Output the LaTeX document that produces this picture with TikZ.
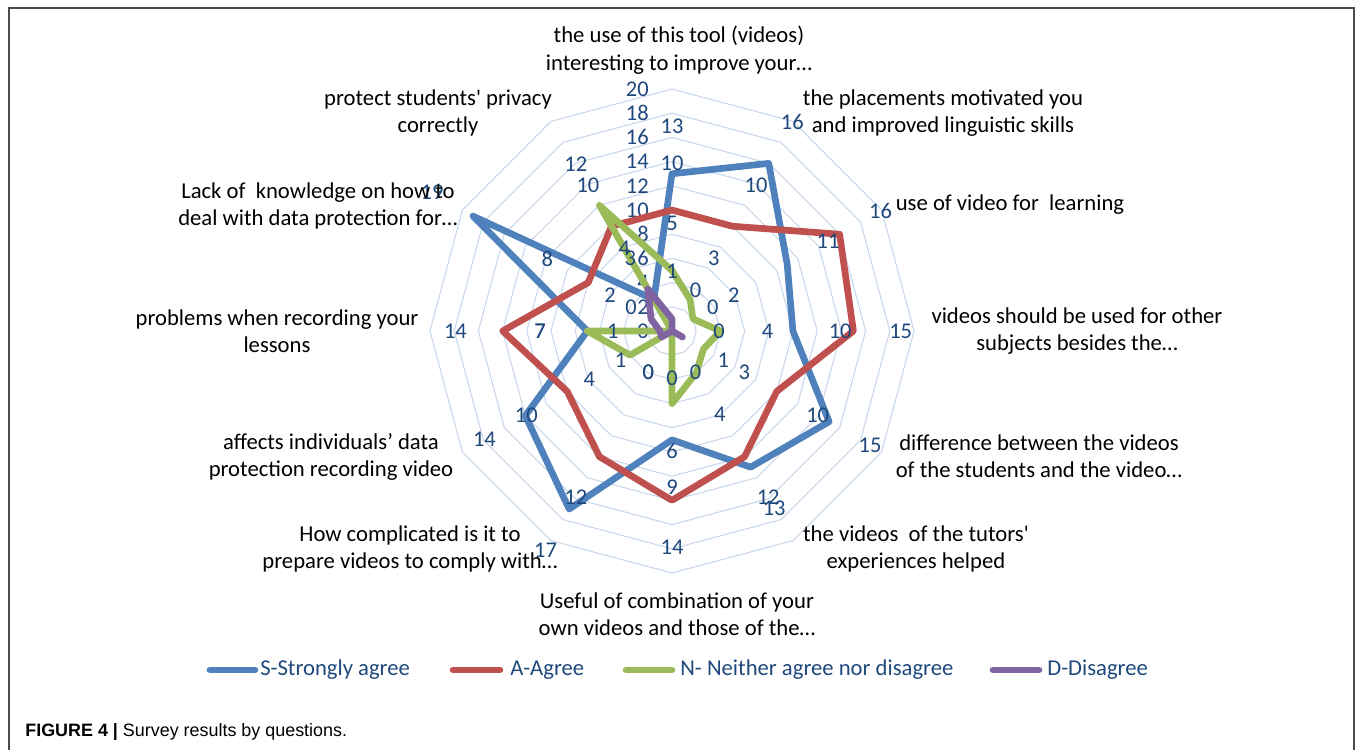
\documentclass[tikz,border=0pt]{standalone}
\usepackage{fontspec}
\setmainfont{Carlito}
\newfontfamily\capfont{Liberation Sans}
\definecolor{sblue}{RGB}{79,129,189}
\definecolor{ared}{RGB}{192,80,77}
\definecolor{ngreen}{RGB}{155,187,89}
\definecolor{dpurple}{RGB}{128,100,162}
\definecolor{gridblue}{RGB}{200,214,236}
\definecolor{lblue}{RGB}{31,73,125}
\tikzset{
  serie/.style={line width=3.8pt, line join=round},
  val/.style={text=lblue, font=\fontsize{12.8}{14}\selectfont, inner sep=0pt},
  quest/.style={align=center, font=\fontsize{12.9}{15.6}\selectfont, inner sep=0pt},
  leg/.style={line width=3.8pt, line cap=round},
  legtext/.style={anchor=west, text=lblue, font=\fontsize{12.9}{15.6}\selectfont, inner sep=0pt},
}
% answers per question, clockwise from the top
\def\dataS{13,16,11,10,15,13,9,17,14,7,19,3}
\def\dataA{10,10,16,15,10,12,14,12,10,14,8,10}
\def\dataN{5,3,2,4,3,4,6,0,4,7,0,12}
\def\dataD{1,0,0,0,1,0,0,0,1,1,2,4}

\begin{document}
\begin{tikzpicture}[x=0.02cm, y=0.02cm]
\useasboundingbox (-672,-419) rectangle (685,331);
\draw[line width=0.8pt, gray!60!black] (-663,-419) -- (-663,323) -- (682,323) -- (682,-419);

\begin{scope}[scale=12.1]
% grid
\foreach \r in {2,4,...,20}
  \draw[gridblue, line width=0.6pt] (90:\r) \foreach \a in {60,30,...,-240} { -- (\a:\r) } -- cycle;
\foreach \v in {0,2,...,20}
  \node[val, anchor=east] (t\v) at (-1.9,\v) {\v};
% points
\foreach \v [count=\i] in \dataS \coordinate (s\i) at ({120-30*\i}:\v);
\foreach \v [count=\i] in \dataA \coordinate (a\i) at ({120-30*\i}:\v);
\foreach \v [count=\i] in \dataN \coordinate (n\i) at ({120-30*\i}:\v);
\foreach \v [count=\i] in \dataD \coordinate (d\i) at ({120-30*\i}:\v);
\draw[serie, sblue] (s1) \foreach \i in {2,...,12} { -- (s\i) } -- cycle;
\draw[serie, ared] (a1) \foreach \i in {2,...,12} { -- (a\i) } -- cycle;
\draw[serie, ngreen] (n1) \foreach \i in {2,...,12} { -- (n\i) } -- cycle;
\draw[serie, dpurple] (d1) \foreach \i in {2,...,12} { -- (d\i) } -- cycle;
% data labels
\foreach \v [count=\i] in \dataS \node[val] (ls\i) at ({120-30*\i}:{\v+3.9}) {\v};
\foreach \v [count=\i] in \dataA \node[val] (la\i) at ({120-30*\i}:{\v+3.9}) {\v};
\foreach \v [count=\i] in \dataN \node[val] (ln\i) at ({120-30*\i}:{\v+3.9}) {\v};
\foreach \v [count=\i] in \dataD \node[val] (ld\i) at ({120-30*\i}:{\v+3.9}) {\v};
\end{scope}

% questions
\node[quest] (q1) at (7,281) {the use of this tool (videos)\\interesting to improve your…};
\node[quest] (q2) at (271,218) {the placements motivated you\\and improved linguistic skills};
\node[quest] (q3) at (338,126) {use of video for~ learning};
\node[quest] (q4) at (405,0) {videos should be used for other\\subjects besides the…};
\node[quest] (q5) at (367,-125) {difference between the videos\\of the students and the video…};
\node[quest] (q6) at (244,-218) {the videos~ of the tutors\textquotesingle\\experiences helped};
\node[quest] (q7) at (5,-283) {Useful of combination of your\\own videos and those of the…};
\node[quest] (q8) at (-262,-218) {How complicated is it to\\prepare videos to comply with…};
\node[quest] (q9) at (-341,-126) {affects individuals’ data\\protection recording video};
\node[quest] (q10) at (-395,0) {problems when recording your\\lessons};
\node[quest] (q11) at (-354,125) {Lack of~ knowledge on how to\\deal with data protection for…};
\node[quest] (q12) at (-234,218) {protect students\textquotesingle\ privacy\\correctly};

% legend
\draw[leg, sblue] (-462,-339) -- (-417,-339);
\node[legtext] (l1) at (-412,-339) {S-Strongly agree};
\draw[leg, ared] (-219,-339) -- (-172,-339);
\node[legtext] (l2) at (-162,-339) {A-Agree};
\draw[leg, ngreen] (-46,-339) -- (0,-339);
\node[legtext] (l3) at (8,-339) {N- Neither agree nor disagree};
\draw[leg, dpurple] (321,-339) -- (367,-339);
\node[legtext] (l4) at (375,-339) {D-Disagree};

\node[anchor=west, inner sep=0pt, font=\capfont\fontsize{10.2}{12}\selectfont] (cap) at (-647,-401) {\textbf{FIGURE 4 |} Survey results by questions.};
\end{tikzpicture}
\end{document}
